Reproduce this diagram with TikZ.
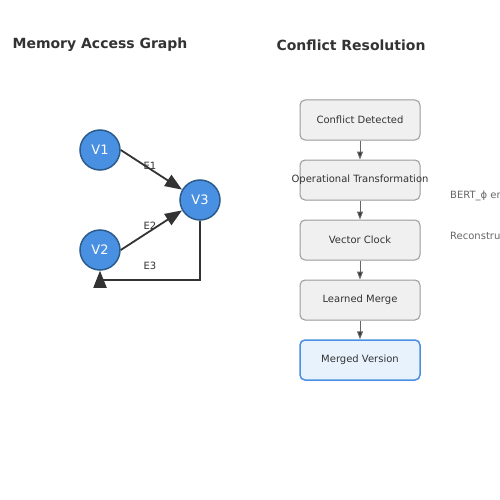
\documentclass[tikz,border=0pt]{standalone}
\usepackage{fontspec}
\setmainfont{DejaVu Sans}
\usetikzlibrary{arrows.meta}
\definecolor{vfill}{HTML}{4A90E2}
\definecolor{vdraw}{HTML}{2B5C8C}
\definecolor{dark}{HTML}{333333}
\definecolor{boxfill}{HTML}{F0F0F0}
\definecolor{boxdraw}{HTML}{999999}
\definecolor{endfill}{HTML}{E8F2FD}
\definecolor{sidegray}{HTML}{666666}
\begin{document}
\begin{tikzpicture}[x=1pt,y=-1pt,
  title/.style={font=\bfseries\fontsize{14}{16}\selectfont, text=dark},
  vertex/.style={circle, minimum size=40pt, inner sep=0pt, fill=vfill, draw=vdraw, line width=1.5pt, text=white, font=\fontsize{13}{15}\selectfont},
  elabel/.style={font=\fontsize{10}{12}\selectfont, text=dark},
  gedge/.style={draw=dark, line width=1.8pt, -{Triangle[length=17pt,width=13pt]}},
  stepbox/.style={rectangle, rounded corners=5pt, minimum width=120pt, minimum height=40pt, inner sep=0pt, fill=boxfill, draw=boxdraw, line width=1pt, text=dark, font=\fontsize{10}{12}\selectfont},
  endbox/.style={stepbox, fill=endfill, draw=vfill, line width=1.5pt},
  flow/.style={draw=sidegray, line width=1pt, -{Triangle[length=8pt,width=6pt,fill=dark]}},
  side/.style={font=\fontsize{10}{12}\selectfont, text=sidegray, anchor=west, inner sep=0pt}
]
\useasboundingbox (0,0) rectangle (500,500);
\clip (0,0) rectangle (500,500);
\node[title] (t1) at (100,45) {Memory Access Graph};
\node[title] (t2) at (351,45) {Conflict Resolution};

\node[vertex] (v1) at (100,150) {V1};
\node[vertex] (v2) at (100,250) {V2};
\node[vertex] (v3) at (200,200) {V3};
\draw[gedge] (v1.east) -- (v3.150);
\draw[gedge] (v2.east) -- (v3.210);
\coordinate (c1) at (200,280);
\coordinate (c2) at (100,280);
\draw[gedge] (v3.south) -- (c1) -- (c2) -- (v2.south);
\node[elabel] (e1) at (150,166) {E1};
\node[elabel] (e2) at (150,226) {E2};
\node[elabel] (e3) at (150,266) {E3};

\node[stepbox] (b1) at (360,120) {\makebox[0pt]{Conflict Detected}};
\node[stepbox] (b2) at (360,180) {\makebox[0pt]{Operational Transformation}};
\node[stepbox] (b3) at (360,240) {\makebox[0pt]{Vector Clock}};
\node[stepbox] (b4) at (360,300) {\makebox[0pt]{Learned Merge}};
\node[endbox] (b5) at (360,360) {\makebox[0pt]{Merged Version}};
\foreach \a/\b in {b1/b2,b2/b3,b3/b4,b4/b5}
  \draw[flow] (\a) -- (\b);

\node[side] (s1) at (450,196) {BERT\_ϕ en};
\node[side] (s2) at (450,236) {Reconstru};
\end{tikzpicture}
\end{document}
